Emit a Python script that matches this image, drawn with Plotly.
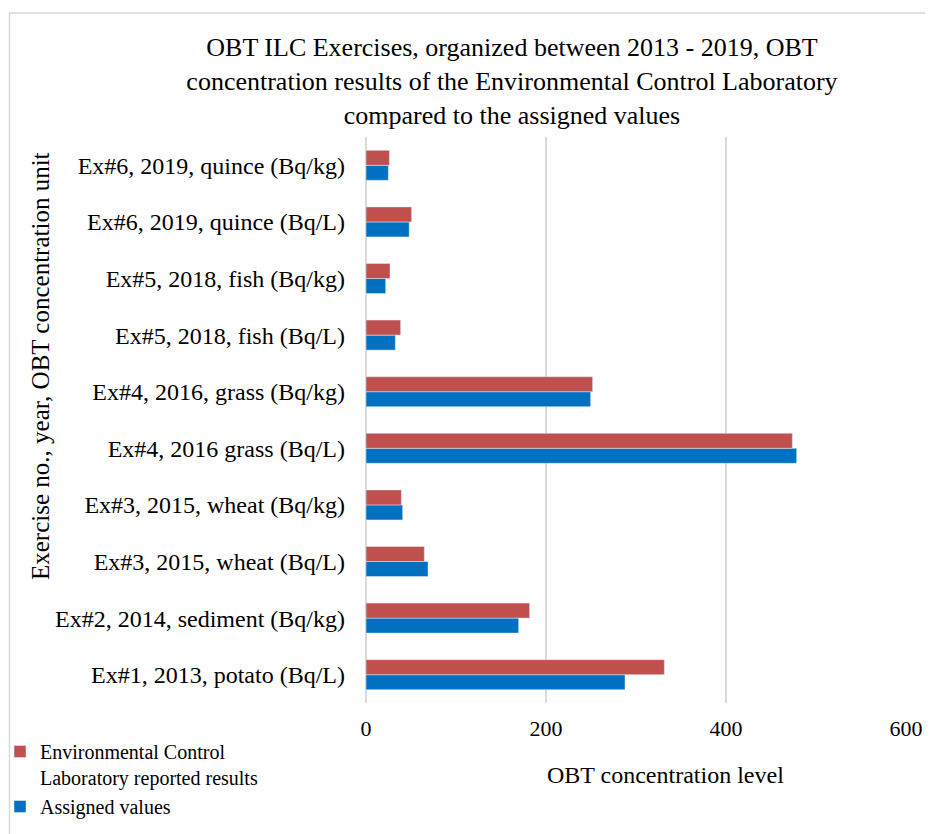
import plotly.graph_objects as go

categories = [
    "Ex#1, 2013, potato (Bq/L)",
    "Ex#2, 2014, sediment (Bq/kg)",
    "Ex#3, 2015, wheat (Bq/L)",
    "Ex#3, 2015, wheat (Bq/kg)",
    "Ex#4, 2016 grass (Bq/L)",
    "Ex#4, 2016, grass (Bq/kg)",
    "Ex#5, 2018, fish (Bq/L)",
    "Ex#5, 2018, fish (Bq/kg)",
    "Ex#6, 2019, quince (Bq/L)",
    "Ex#6, 2019, quince (Bq/kg)",
]
lab_results = [331.5, 181.8, 64.8, 39.3, 473.7, 251.8, 38.5, 26.7, 50.7, 26.0]
assigned_values = [287.8, 169.6, 68.9, 40.7, 478.5, 249.6, 32.6, 21.9, 48.0, 24.8]
x_ticks = [0, 200, 400, 600]

OFF = 8  # page body margin
W, H = 925, 826
L = 366 - OFF
T = 137 - OFF
R = W - (906 - OFF)
B = H - (703 - OFF)
pw, ph = W - L - R, H - T - B

def px(xs):
    return (xs - OFF - L) / pw

def py(ys):
    return (H - B - (ys - OFF)) / ph

font_family = "Liberation Serif, Times New Roman, serif"

fig = go.Figure()
fig.add_trace(go.Bar(
    y=categories, x=assigned_values, orientation="h",
    name="Assigned values", marker=dict(color="#0070C0"), legendrank=2,
))
fig.add_trace(go.Bar(
    y=categories, x=lab_results, orientation="h",
    name="Environmental Control<br>Laboratory reported results",
    marker=dict(color="#C0504D"), legendrank=1,
))

fig.update_layout(
    width=W, height=H,
    margin=dict(l=L, r=R, t=T, b=B, pad=0, autoexpand=False),
    paper_bgcolor="white", plot_bgcolor="white",
    font=dict(family=font_family, size=20, color="#000000"),
    barmode="group", bargap=0.47, bargroupgap=0,
    title=dict(
        text="OBT ILC Exercises, organized between 2013 - 2019, OBT<br>concentration results of the Environmental Control Laboratory<br>compared to the assigned values",
        xref="container", yref="container",
        x=(512 - OFF) / W, xanchor="center", y=1 - 48 / H, yanchor="top",
        font=dict(family=font_family, size=26, color="#000000"),
    ),
    xaxis=dict(
        range=[0, 600], tickvals=x_ticks, showgrid=True, automargin=False,
        gridcolor="#d9d9d9", gridwidth=2, zeroline=True,
        zerolinecolor="#d9d9d9", zerolinewidth=2, showline=False,
        ticks="", ticklabelstandoff=10,
        tickfont=dict(family=font_family, size=22),
        fixedrange=True,
    ),
    yaxis=dict(
        categoryorder="array", categoryarray=categories, automargin=False,
        showgrid=False, zeroline=False, showline=False, ticks="",
        ticklabelstandoff=20,
        tickfont=dict(family=font_family, size=24),
        fixedrange=True,
    ),
    legend=dict(
        x=px(0), y=py(732), xanchor="left", yanchor="top",
        font=dict(family=font_family, size=20),
        traceorder="normal", valign="top",
        itemwidth=30, tracegroupgap=0, bgcolor="rgba(0,0,0,0)",
    ),
    showlegend=True,
)

fig.add_annotation(
    text="OBT concentration level", xref="paper", yref="paper",
    x=px(665), y=py(775), xanchor="center", yanchor="middle",
    showarrow=False, font=dict(family=font_family, size=24),
)
fig.add_annotation(
    text="Exercise no., year, OBT concentration unit", xref="paper", yref="paper",
    x=px(40), y=py(366), xanchor="center", yanchor="middle", textangle=-90,
    showarrow=False, font=dict(family=font_family, size=25),
)
fig.add_shape(
    type="rect", xref="paper", yref="paper",
    x0=px(9.5), x1=px(945), y0=py(13), y1=py(850),
    line=dict(color="#d9d9d9", width=1.5), layer="below",
)

fig.write_html("out.html")
